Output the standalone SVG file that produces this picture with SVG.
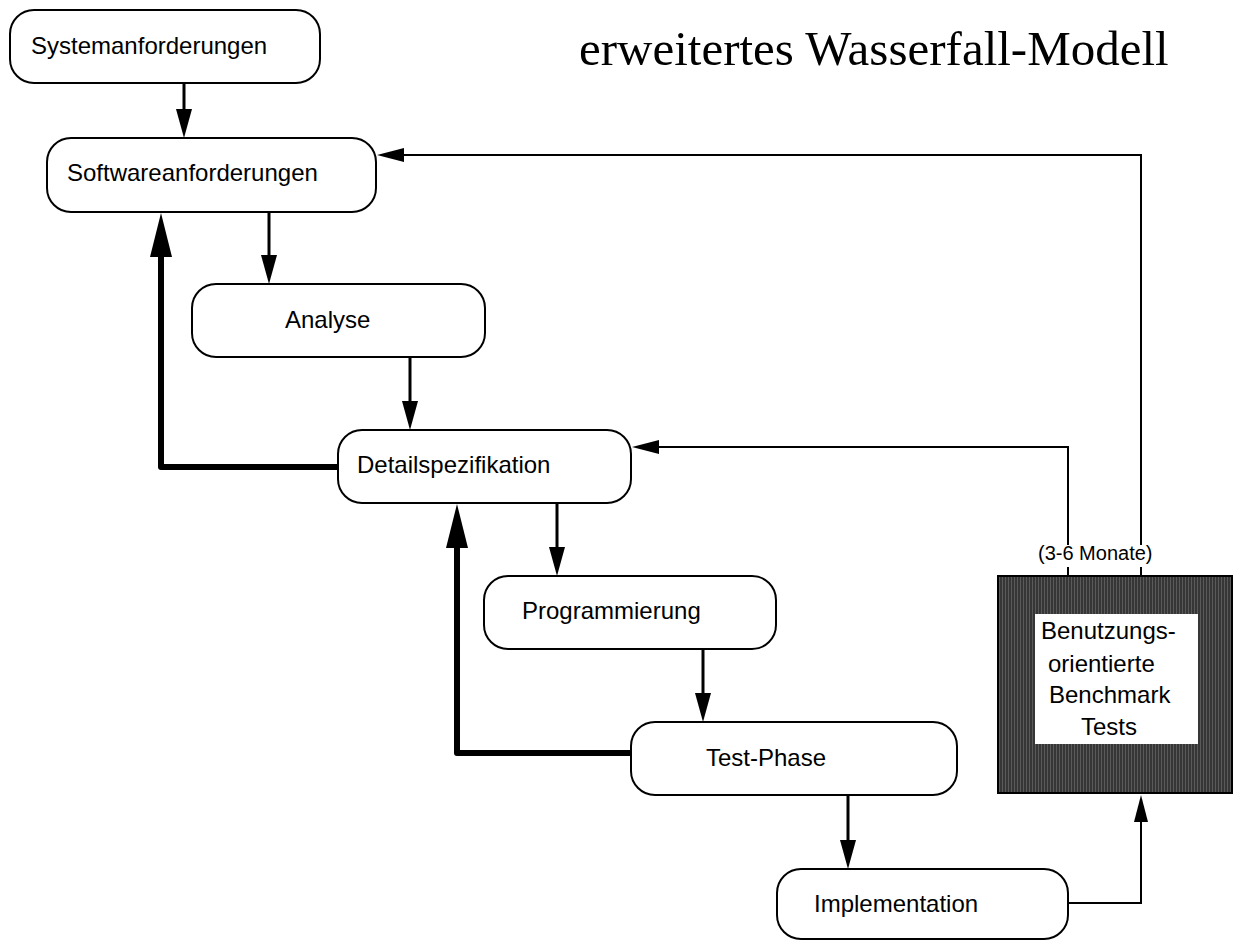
<svg xmlns="http://www.w3.org/2000/svg" width="1234" height="940" viewBox="0 0 1234 940">
<style>
.box{fill:#fff;stroke:#000;stroke-width:2}
.lbl{font-family:"Liberation Sans",Arial,sans-serif;font-size:24px;fill:#000}
.small{font-family:"Liberation Sans",Arial,sans-serif;font-size:20px;fill:#000}
.title{font-family:"Liberation Serif","Times New Roman",serif;font-size:49px;fill:#000}
.med{fill:none;stroke:#000;stroke-width:3}
.thick{fill:none;stroke:#000;stroke-width:6;stroke-linejoin:round;stroke-linecap:round}
.thin{fill:none;stroke:#000;stroke-width:2}
</style>
<defs>
<marker id="hM" markerUnits="userSpaceOnUse" markerWidth="30" markerHeight="16" refX="0" refY="8" orient="auto"><path d="M0,0 L29,8 L0,16 z" fill="#000"/></marker>
<marker id="hT" markerUnits="userSpaceOnUse" markerWidth="45" markerHeight="22" refX="0" refY="11" orient="auto"><path d="M0,0 L44,11 L0,22 z" fill="#000"/></marker>
<marker id="hS" markerUnits="userSpaceOnUse" markerWidth="28" markerHeight="14" refX="0" refY="7" orient="auto"><path d="M0,0 L27,7 L0,14 z" fill="#000"/></marker>
<pattern id="stripes" patternUnits="userSpaceOnUse" width="3" height="10">
<rect width="3" height="10" fill="#363636"/>
<rect x="0" width="1" height="10" fill="#5a5a5a"/>
</pattern>
</defs>
<text class="title" x="579" y="65">erweitertes Wasserfall-Modell</text>
<g id="connectors">
<line class="med" x1="184" y1="84" x2="184" y2="109" marker-end="url(#hM)"/>
<line class="med" x1="269" y1="213" x2="269" y2="255" marker-end="url(#hM)"/>
<line class="med" x1="410" y1="358" x2="410" y2="401" marker-end="url(#hM)"/>
<line class="med" x1="557" y1="504" x2="557" y2="547" marker-end="url(#hM)"/>
<line class="med" x1="703" y1="650" x2="703" y2="693" marker-end="url(#hM)"/>
<line class="med" x1="848" y1="796" x2="848" y2="840" marker-end="url(#hM)"/>
<path class="thick" d="M337,467 L161,467 L161,257" marker-end="url(#hT)"/>
<path class="thick" d="M630,753 L457,753 L457,548" marker-end="url(#hT)"/>
<path class="thin" d="M1069,903 L1141,903 L1141,822" marker-end="url(#hS)"/>
<line class="thin" x1="1068" y1="576" x2="1068" y2="567"/>
<line class="thin" x1="1141" y1="576" x2="1141" y2="567"/>
<path class="thin" d="M1068,545 L1068,447 L659,447" marker-end="url(#hS)"/>
<path class="thin" d="M1141,545 L1141,155 L404,155" marker-end="url(#hS)"/>
<text class="small" x="1038" y="560">(3-6 Monate)</text>
</g>
<g id="n-system">
<rect class="box" x="10" y="10" width="310" height="73" rx="24"/>
<text class="lbl" x="31" y="54">Systemanforderungen</text>
</g>
<g id="n-software">
<rect class="box" x="47" y="138" width="329" height="74" rx="24"/>
<text class="lbl" x="67" y="181">Softwareanforderungen</text>
</g>
<g id="n-analyse">
<rect class="box" x="192" y="284" width="293" height="73" rx="24"/>
<text class="lbl" x="285" y="328">Analyse</text>
</g>
<g id="n-detail">
<rect class="box" x="338" y="430" width="293" height="73" rx="24"/>
<text class="lbl" x="357" y="473">Detailspezifikation</text>
</g>
<g id="n-programmierung">
<rect class="box" x="484" y="576" width="292" height="73" rx="24"/>
<text class="lbl" x="522" y="619">Programmierung</text>
</g>
<g id="n-test">
<rect class="box" x="631" y="722" width="326" height="73" rx="24"/>
<text class="lbl" x="706" y="766">Test-Phase</text>
</g>
<g id="n-implementation">
<rect class="box" x="777" y="869" width="291" height="70" rx="24"/>
<text class="lbl" x="814" y="912">Implementation</text>
</g>
<g id="n-benchmark">
<rect x="998" y="576" width="234" height="217" fill="url(#stripes)" stroke="#000" stroke-width="2"/>
<rect x="1035" y="614" width="163" height="130" fill="#fff"/>
<text class="lbl" x="1041" y="639">Benutzungs-</text>
<text class="lbl" x="1048" y="672">orientierte</text>
<text class="lbl" x="1049" y="703">Benchmark</text>
<text class="lbl" x="1081" y="735">Tests</text>
</g>
</svg>
